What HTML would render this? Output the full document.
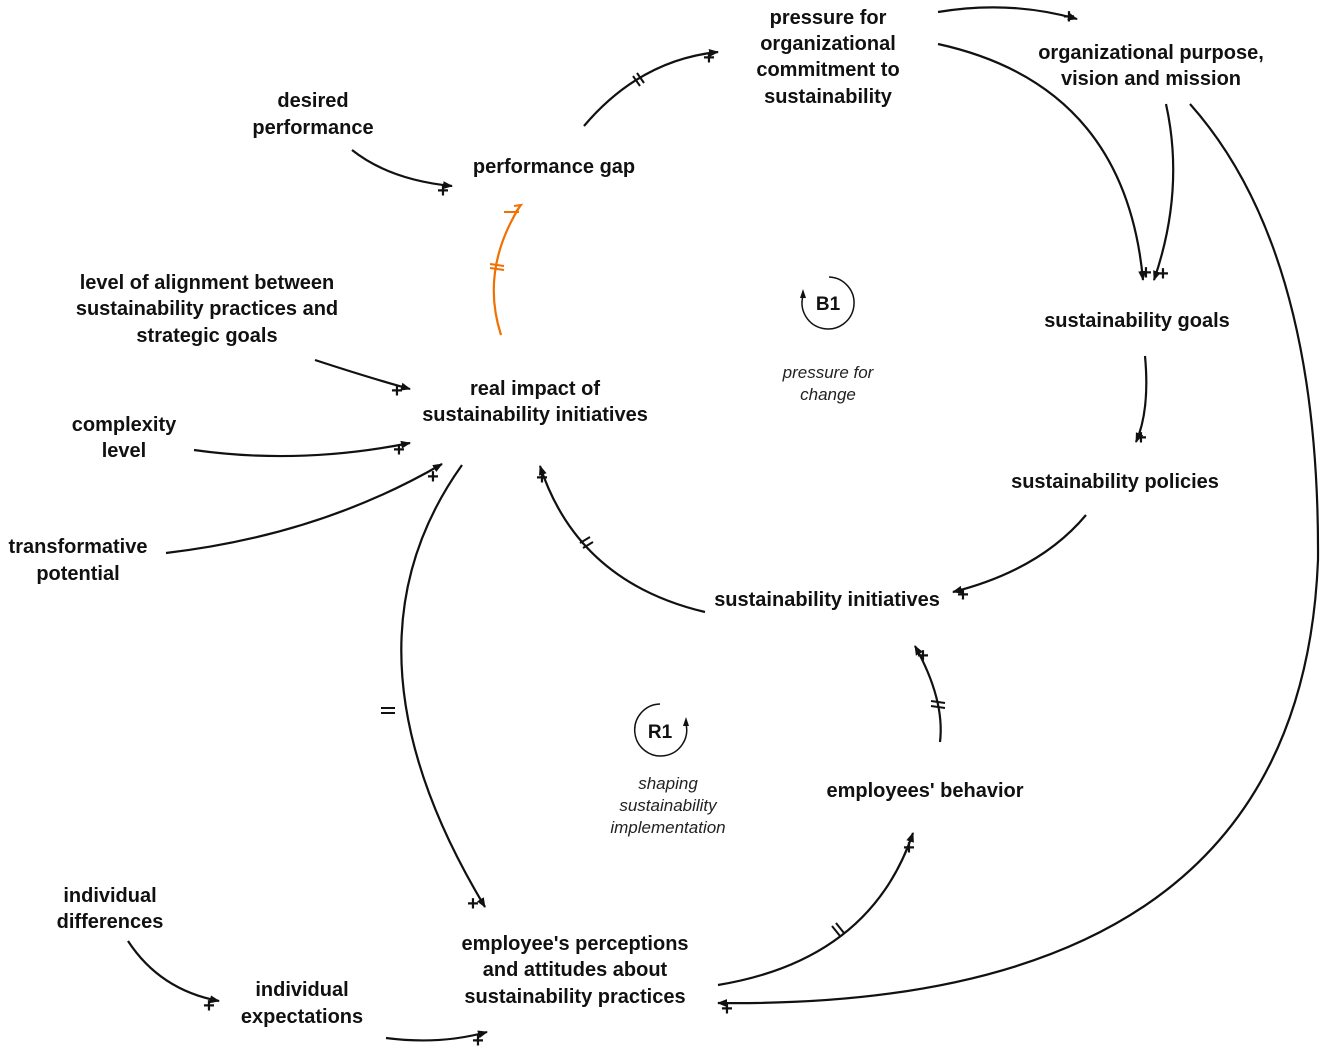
<!DOCTYPE html>
<html><head><meta charset="utf-8"><style>
html,body{margin:0;padding:0;background:#fff;}
svg{display:block;}
text{font-family:"Liberation Sans",sans-serif;}
.l{font-size:20px;font-weight:bold;fill:#111;text-anchor:middle;}
.p{font-size:19px;font-weight:bold;fill:#111;text-anchor:middle;}
.i{font-size:17px;font-style:italic;fill:#222;text-anchor:middle;}
path.c{fill:none;stroke:#111;stroke-width:2.2;marker-end:url(#a);}
path.o{fill:none;stroke:#f07000;stroke-width:2.2;}
.d{stroke:#111;stroke-width:2;}
</style></head><body>
<svg width="1325" height="1053" viewBox="0 0 1325 1053" xmlns="http://www.w3.org/2000/svg">
<defs><marker id="a" markerWidth="10" markerHeight="10" refX="9" refY="5" orient="auto" markerUnits="userSpaceOnUse"><path d="M0,1 L10,5 L0,9 Z" fill="#111"/></marker></defs>

<text class="l" x="313" y="107">desired</text><text class="l" x="313" y="134">performance</text>
<text class="l" x="554" y="173">performance gap</text>
<text class="l" x="828" y="24">pressure for</text><text class="l" x="828" y="50">organizational</text><text class="l" x="828" y="76">commitment to</text><text class="l" x="828" y="103">sustainability</text>
<text class="l" x="1151" y="59">organizational purpose,</text><text class="l" x="1151" y="85">vision and mission</text>
<text class="l" x="207" y="289">level of alignment between</text><text class="l" x="207" y="315">sustainability practices and</text><text class="l" x="207" y="342">strategic goals</text>
<text class="l" x="1137" y="327">sustainability goals</text>
<text class="l" x="535" y="395">real impact of</text><text class="l" x="535" y="421">sustainability initiatives</text>
<text class="l" x="124" y="431">complexity</text><text class="l" x="124" y="457">level</text>
<text class="l" x="1115" y="488">sustainability policies</text>
<text class="l" x="78" y="553">transformative</text><text class="l" x="78" y="580">potential</text>
<text class="l" x="827" y="606">sustainability initiatives</text>
<text class="l" x="925" y="797">employees' behavior</text>
<text class="l" x="110" y="902">individual</text><text class="l" x="110" y="928">differences</text>
<text class="l" x="575" y="950">employee's perceptions</text><text class="l" x="575" y="976">and attitudes about</text><text class="l" x="575" y="1003">sustainability practices</text>
<text class="l" x="302" y="996">individual</text><text class="l" x="302" y="1023">expectations</text>

<text class="i" x="828" y="378">pressure for</text><text class="i" x="828" y="400">change</text>
<text class="i" x="668" y="789">shaping</text><text class="i" x="668" y="811">sustainability</text><text class="i" x="668" y="833">implementation</text>

<!-- loop icons -->
<path d="M803,296 A26,26 0 1 0 829,277" fill="none" stroke="#111" stroke-width="1.5"/>
<path d="M800,298 L803,289 L806,298 Z" fill="#111"/>
<text x="828" y="310" style="font-size:19px;font-weight:bold;text-anchor:middle;fill:#111">B1</text>
<path d="M686,724 A26,26 0 1 1 660,704" fill="none" stroke="#111" stroke-width="1.5"/>
<path d="M683,726 L686,717 L689,726 Z" fill="#111"/>
<text x="660" y="738" style="font-size:19px;font-weight:bold;text-anchor:middle;fill:#111">R1</text>

<!-- connectors -->
<path class="c" d="M352,150 Q390,180 452,186"/>
<path class="c" d="M584,126 Q640,60 718,52"/>
<path class="c" d="M938,12 Q1010,0 1077,19"/>
<path class="c" d="M938,44 Q1125,85 1143,280"/>
<path class="c" d="M1166,104 Q1185,190 1154,280"/>
<path class="c" d="M1190,104 Q1320,250 1318,560 Q1300,1010 718,1003"/>
<path class="c" d="M1145,356 Q1150,410 1136,442"/>
<path class="c" d="M1086,515 Q1040,570 953,592"/>
<path class="c" d="M705,612 Q578,582 540,466"/>
<path class="c" d="M940,742 Q945,700 915,646"/>
<path class="c" d="M718,985 Q870,960 913,833"/>
<path class="c" d="M462,465 Q330,650 485,907"/>
<path class="c" d="M315,360 Q370,378 410,389"/>
<path class="c" d="M194,450 Q300,465 410,443"/>
<path class="c" d="M166,553 Q320,535 442,464"/>
<path class="c" d="M128,941 Q160,990 219,1001"/>
<path class="c" d="M386,1038 Q440,1045 487,1032"/>
<path class="o" d="M501,335 Q480,270 520,206"/>
<path d="M514,206 L521,205 L515,213" fill="none" stroke="#f07000" stroke-width="2"/>
<path d="M504,212 L519,212" stroke="#f07000" stroke-width="2"/>
<path d="M490,264 L504,266 M490,268 L504,270" stroke="#f07000" stroke-width="2"/>

<!-- delay marks -->
<path class="d" d="M633,76 L640,86 M637,73 L644,83"/>
<path class="d" d="M580,543 L590,537 M583,548 L593,542"/>
<path class="d" d="M931,701 L945,703 M931,706 L945,708"/>
<path class="d" d="M832,926 L840,936 M836,923 L844,933"/>
<path class="d" d="M381,708 L395,708 M381,713 L395,713"/>

<!-- plus signs -->
<g style="font-size:20px;font-weight:bold;fill:#111;text-anchor:middle">
<text x="443" y="197">+</text><text x="709" y="64">+</text><text x="1069" y="23">+</text>
<text x="1146" y="279">+</text><text x="1163" y="280">+</text><text x="1141" y="444">+</text>
<text x="963" y="601">+</text><text x="542" y="484">+</text><text x="923" y="662">+</text>
<text x="909" y="854">+</text><text x="473" y="910">+</text><text x="727" y="1015">+</text>
<text x="397" y="397">+</text><text x="399" y="456">+</text><text x="433" y="483">+</text>
<text x="209" y="1012">+</text><text x="478" y="1047">+</text>
</g>
</svg>
</body></html>
